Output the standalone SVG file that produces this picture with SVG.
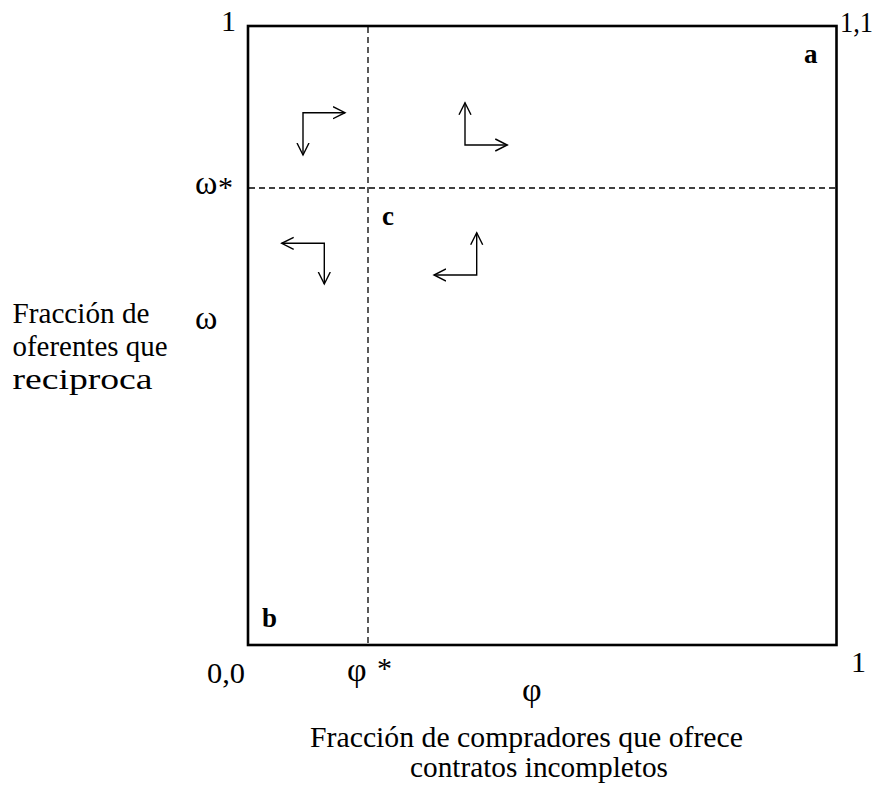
<svg xmlns="http://www.w3.org/2000/svg" width="876" height="791" viewBox="0 0 876 791">
<style>
.t{font-family:"Liberation Serif","Times New Roman",serif;fill:#000}
.n{font-size:30px}
.g{font-size:34px}
.l{font-size:29px}
.b{font-size:27px;font-weight:bold}
.d{stroke:#000;stroke-width:1.3;stroke-dasharray:6 4;fill:none}
.ar{stroke:#000;stroke-width:1.4;fill:none}
</style>
<defs>
<marker id="h" viewBox="0 0 14 14" refX="12" refY="7" markerWidth="14" markerHeight="14" markerUnits="userSpaceOnUse" orient="auto-start-reverse">
<path d="M0,1 L12,7 L0,13" fill="none" stroke="#000" stroke-width="1.4"/>
</marker>
</defs>
<rect width="876" height="791" fill="#fff"/>
<g id="frame">
<rect x="248" y="26" width="588.5" height="619" fill="none" stroke="#000" stroke-width="2.6"/>
</g>
<g id="thresholds">
<line class="d" x1="368" y1="27" x2="368" y2="644"/>
<line class="d" x1="249" y1="188" x2="835" y2="188"/>
</g>
<g id="connectors">
<polyline class="ar" points="303,155 303,112.7 345,112.7" marker-start="url(#h)" marker-end="url(#h)"/>
<polyline class="ar" points="465,102.7 465,145 507.3,145" marker-start="url(#h)" marker-end="url(#h)"/>
<polyline class="ar" points="281.7,243.3 324.3,243.3 324.3,284" marker-start="url(#h)" marker-end="url(#h)"/>
<polyline class="ar" points="476.7,232.7 476.7,275 434,275" marker-start="url(#h)" marker-end="url(#h)"/>
</g>
<g id="labels">
<text class="t n" x="221" y="31">1</text>
<text class="t n" x="840" y="32" textLength="33" lengthAdjust="spacingAndGlyphs">1,1</text>
<text class="t n" x="207" y="683" textLength="38" lengthAdjust="spacingAndGlyphs">0,0</text>
<text class="t n" x="851" y="672">1</text>
<text class="t b" x="804" y="63">a</text>
<text class="t b" x="262" y="627">b</text>
<text class="t b" x="382" y="225">c</text>
<text class="t g" x="195" y="194">ω</text>
<text class="t n" x="218" y="197">*</text>
<text class="t g" x="195" y="329">ω</text>
<text class="t g" x="347" y="681">φ</text>
<text class="t n" x="377" y="678">*</text>
<text class="t g" x="522" y="701">φ</text>
</g>
<g id="yaxis-title">
<text class="t l" x="12.5" y="323" textLength="137" lengthAdjust="spacingAndGlyphs">Fracción de</text>
<text class="t l" x="12.5" y="356" textLength="155" lengthAdjust="spacingAndGlyphs">oferentes que</text>
<text class="t" style="font-size:30px" x="12.5" y="389" textLength="140" lengthAdjust="spacingAndGlyphs">reciproca</text>
</g>
<g id="xaxis-title">
<text class="t l" x="310" y="747" textLength="433" lengthAdjust="spacingAndGlyphs">Fracción de compradores que ofrece</text>
<text class="t l" x="410" y="777" textLength="258" lengthAdjust="spacingAndGlyphs">contratos incompletos</text>
</g>
</svg>
